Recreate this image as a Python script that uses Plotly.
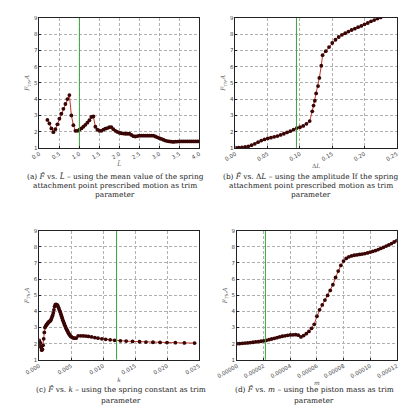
import plotly.graph_objects as go

# ---------------- data ----------------
# (a) F vs mean spring attachment L
a_x = [0.20,0.25,0.30,0.35,0.40,0.45,0.50,0.55,0.60,0.65,0.70,0.75,0.80,0.85,0.90,0.95,
       1.00,1.05,1.10,1.15,1.20,1.25,1.30,1.35,1.40,1.45,1.50,1.55,1.60,1.65,1.70,1.75,
       1.80,1.85,1.90,1.95,2.00,2.05,2.10,2.15,2.20,2.25,2.30,2.35,2.40,2.45,2.50,2.55,
       2.60,2.65,2.70,2.75,2.80,2.85,2.90,2.95,3.00,3.05,3.10,3.15,3.20,3.25,3.30,3.35,
       3.40,3.45,3.50,3.55,3.60,3.65,3.70,3.75,3.80,3.85,3.90,3.95,4.00]
a_y = [2.72,2.50,2.20,1.97,2.15,2.45,2.80,3.10,3.40,3.70,4.00,4.25,3.00,2.40,2.05,2.05,
       2.12,2.20,2.30,2.42,2.55,2.70,2.90,2.93,2.30,2.12,2.05,2.05,2.12,2.18,2.22,2.27,
       2.28,2.15,2.05,1.98,1.93,1.90,1.88,1.87,1.87,1.87,1.80,1.72,1.70,1.73,1.75,1.75,
       1.75,1.75,1.75,1.75,1.75,1.75,1.70,1.65,1.60,1.55,1.50,1.45,1.42,1.40,1.38,1.37,
       1.38,1.39,1.40,1.40,1.40,1.40,1.40,1.40,1.40,1.40,1.40,1.40,1.40]

# (b) F vs amplitude dL
b_x = [0.000,0.005,0.010,0.015,0.020,0.025,0.030,0.035,0.040,0.045,0.050,0.055,0.060,
       0.065,0.070,0.075,0.080,0.085,0.090,0.095,0.100,0.105,0.110,0.115,0.119,0.121,
       0.123,0.125,0.128,0.130,0.133,0.135,0.140,0.145,0.150,0.155,0.160,0.165,0.170,
       0.175,0.180,0.185,0.190,0.195,0.200,0.205,0.210,0.215,0.220,0.225,0.230]
b_y = [1.02,1.02,1.03,1.06,1.10,1.17,1.25,1.35,1.45,1.52,1.58,1.63,1.68,
       1.73,1.80,1.87,1.95,2.03,2.12,2.22,2.27,2.35,2.48,2.65,3.25,3.60,
       3.90,4.35,4.80,5.30,6.05,6.70,6.95,7.20,7.45,7.65,7.82,7.95,8.05,
       8.15,8.25,8.33,8.42,8.50,8.60,8.68,8.78,8.86,8.95,9.02,9.10]

# (c) F vs spring constant k
c_x = [0.0000,0.0001,0.0002,0.0003,0.0004,0.0005,0.0006,0.0007,0.0008,0.0009,0.0010,
       0.0011,0.0012,0.0013,0.0014,0.0015,0.0016,0.0017,0.0018,0.0019,0.0020,0.0021,
       0.0022,0.0023,0.0024,0.0025,0.0026,0.0027,0.0028,0.0029,0.0030,0.0031,0.0032,
       0.0033,0.0034,0.0035,0.0036,0.0037,0.0038,0.0039,0.0040,0.0041,0.0042,0.0043,
       0.0044,0.0045,0.0046,0.0047,0.0048,0.0049,0.0050,0.0052,0.0054,0.0056,0.0058,
       0.0061,0.0065,0.0069,0.0073,0.0077,0.0082,0.0087,0.0092,0.0098,0.0104,0.0111,
       0.0118,0.0127,0.0136,0.0146,0.0157,0.0167,0.0178,0.0189,0.0200,0.0213,0.0227,
       0.0243]
c_y = [2.20,1.85,2.05,1.75,1.60,1.65,1.90,2.30,2.70,3.00,3.08,
       3.15,3.20,3.25,3.30,3.35,3.38,3.40,3.45,3.55,3.65,3.75,
       3.90,4.10,4.30,4.40,4.43,4.42,4.40,4.35,4.25,4.15,4.05,
       3.95,3.82,3.70,3.58,3.45,3.35,3.25,3.15,3.05,2.95,2.87,
       2.80,2.72,2.65,2.58,2.52,2.47,2.43,2.38,2.35,2.34,2.35,
       2.49,2.49,2.48,2.47,2.45,2.42,2.38,2.34,2.30,2.27,2.24,
       2.21,2.18,2.16,2.14,2.12,2.10,2.09,2.08,2.07,2.06,2.05,
       2.04]

# (d) F vs piston mass m
d_x = [0.000000,0.000002,0.000004,0.000006,0.000008,0.000010,0.000012,0.000014,
       0.000016,0.000018,0.000020,0.000022,0.000024,0.000026,0.000028,0.000030,
       0.000032,0.000034,0.000036,0.000038,0.000040,0.000042,0.000044,0.000046,
       0.000048,0.000050,0.000052,0.000054,0.000056,0.000058,0.000060,0.000062,
       0.000064,0.000066,0.000068,0.000070,0.000072,0.000074,0.000076,0.000078,
       0.000080,0.000082,0.000084,0.000086,0.000088,0.000090,0.000092,0.000094,
       0.000096,0.000098,0.000100,0.000102,0.000104,0.000106,0.000108,0.000110,
       0.000112,0.000114,0.000116,0.000118,0.000120]
d_y = [2.00,2.01,2.02,2.04,2.05,2.07,2.09,2.11,
       2.13,2.15,2.18,2.21,2.25,2.29,2.33,2.37,
       2.42,2.46,2.49,2.52,2.54,2.55,2.56,2.53,
       2.42,2.50,2.62,2.76,2.95,3.20,3.70,4.10,
       4.40,4.70,4.99,5.30,5.65,6.10,6.50,6.85,
       7.12,7.28,7.38,7.44,7.48,7.50,7.53,7.55,
       7.58,7.62,7.67,7.72,7.77,7.83,7.90,7.97,
       8.05,8.12,8.20,8.30,8.38]

trim_values = [1.0, 0.0945, 0.0121, 0.0000213]
x_ranges = [[0, 4], [0, 0.25], [0, 0.025], [0, 0.00012]]
x_dticks = [0.5, 0.05, 0.005, 0.00002]
x_formats = [".1f", ".2f", ".3f", ".5f"]
x_titles = ["<i>L̄</i>", "Δ<i>L</i>", "<i>k</i>", "<i>m</i>"]
y_title = "<i>F<sub>Th</sub>,A</i>"

captions = [
    ["(a) <i>F̄</i> vs. <i>L̄</i> – using the mean value of the spring",
     "attachment point prescribed motion as trim", "parameter"],
    ["(b) <i>F̄</i> vs. Δ<i>L</i> – using the amplitude If the spring",
     "attachment point prescribed motion as trim", "parameter"],
    ["(c) <i>F̄</i> vs. <i>k</i> – using the spring constant as trim",
     "parameter"],
    ["(d) <i>F̄</i> vs. <i>m</i> – using the piston mass as trim",
     "parameter"],
]

W, H = 407, 420
# plot boxes in pixels: (left, right, top, bottom)
boxes = [(19.5, 189, 15, 147), (227.3, 398.3, 15, 147),
         (19.3, 188.7, 231, 362), (229, 398.3, 231, 362)]
caption_rows = [[176, 185, 194], [176, 185, 194], [392, 403], [392, 403]]
caption_cx = [100, 307, 106, 311]

series = [(a_x, a_y), (b_x, b_y), (c_x, c_y), (d_x, d_y)]

fig = go.Figure()
layout = dict(width=W, height=H, margin=dict(l=0, r=0, t=0, b=0),
              paper_bgcolor="white", plot_bgcolor="white", showlegend=False,
              font=dict(family="DejaVu Sans", size=6, color="#333"))
annotations = []

for i, ((xs, ys), box) in enumerate(zip(series, boxes)):
    n = "" if i == 0 else str(i + 1)
    xa, ya = "x" + n, "y" + n
    fig.add_trace(go.Scatter(x=xs, y=ys, xaxis=xa, yaxis=ya, mode="lines+markers",
                             line=dict(color="#c0392b", width=1),
                             marker=dict(color="#3a0505", size=3.8, symbol="circle",
                                         line=dict(width=0)),
                             cliponaxis=True))
    fig.add_trace(go.Scatter(x=[trim_values[i], trim_values[i]], y=[1, 9], xaxis=xa,
                             yaxis=ya, mode="lines",
                             line=dict(color="#3aa03a", width=1)))
    l, r, t, b = box
    axis_common = dict(showline=True, mirror=True, linecolor="#222", linewidth=0.8,
                       showgrid=True, gridcolor="#b0b0b0", gridwidth=0.6,
                       griddash="3px,2px", ticks="inside", ticklen=2, tickcolor="#222",
                       zeroline=False, tickfont=dict(size=5.5, color="#444"))
    layout["xaxis" + n] = dict(axis_common, domain=[l / W, r / W], anchor=ya,
                               range=x_ranges[i], dtick=x_dticks[i], tick0=0,
                               tickformat=x_formats[i], tickangle=-30,
                               title=dict(text=x_titles[i], standoff=2,
                                          font=dict(size=6, family="DejaVu Serif",
                                                    color="#555")))
    layout["yaxis" + n] = dict(axis_common, domain=[1 - b / H, 1 - t / H], anchor=xa,
                               range=[1, 9], dtick=1, tick0=1,
                               title=dict(text=y_title, standoff=3,
                                          font=dict(size=6, family="DejaVu Serif",
                                                    color="#555")))
    for line_text, yy in zip(captions[i], caption_rows[i]):
        annotations.append(dict(text=line_text, x=caption_cx[i] / W, y=1 - yy / H,
                                xref="paper", yref="paper", showarrow=False,
                                xanchor="center", yanchor="middle",
                                font=dict(family="DejaVu Serif", size=7.4,
                                          color="#222")))

layout["annotations"] = annotations
fig.update_layout(**layout)
fig.write_html("out.html")
